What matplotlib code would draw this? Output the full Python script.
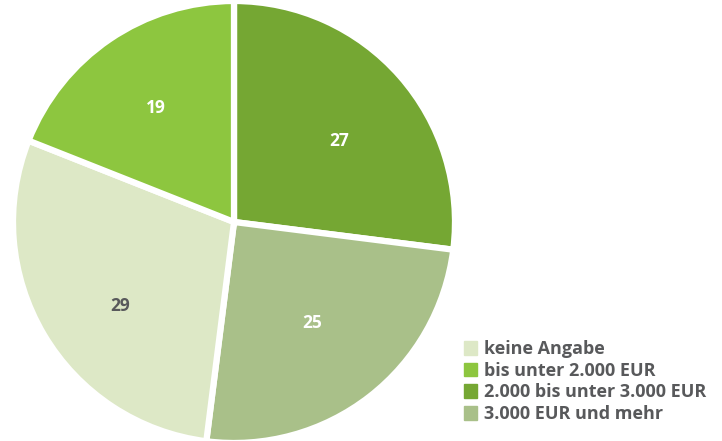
import numpy as np
import matplotlib.pyplot as plt

categories = ["keine Angabe", "bis unter 2.000 EUR", "2.000 bis unter 3.000 EUR", "3.000 EUR und mehr"]
values = [29, 19, 27, 25]
colors = ["#dde8c6", "#8dc63f", "#75a733", "#a9c089"]
label_colors = ["#58595b", "white", "white", "white"]

# clockwise from 12 o'clock: 27, 25, 29, 19
order = [2, 3, 0, 1]
label_dist = [0.60, 0.58, 0.64, 0.625]
label_shift = [-4, 0, 6, 0]  # degrees, nudge labels off the wedge bisector

plt.rcParams["font.family"] = ["Open Sans", "DejaVu Sans"]

fig = plt.figure(figsize=(7.22, 4.41), dpi=100)
r = 221
ax = fig.add_axes([(234 - r) / 722, (441 - 222 - r) / 441, 2 * r / 722, 2 * r / 441])

wedges, texts = ax.pie(
    [values[i] for i in order],
    colors=[colors[i] for i in order],
    startangle=90,
    counterclock=False,
    labels=[str(values[i]) for i in order],
    wedgeprops=dict(edgecolor="white", linewidth=4.5),
)
for w, t, i, d, s in zip(wedges, texts, order, label_dist, label_shift):
    ang = np.deg2rad((w.theta1 + w.theta2) / 2 + s)
    t.set_position((d * np.cos(ang), d * np.sin(ang)))
    t.set_color(label_colors[i])
    t.set_fontsize(12.5)
    t.set_fontweight("bold")
    t.set_ha("center")
    t.set_va("center")
ax.set_xlim(-1, 1)
ax.set_ylim(-1, 1)
ax.set_aspect("equal")

handles = [plt.Rectangle((0, 0), 1, 1, color=c) for c in colors]
leg = fig.legend(
    handles, categories,
    loc="upper left", bbox_to_anchor=(457 / 722, 1 - 333 / 441),
    frameon=False, handlelength=0.72, handleheight=0.8, handletextpad=0.4,
    labelspacing=0.2, borderaxespad=0,
    prop=dict(size=13, weight="bold"),
)
for t in leg.get_texts():
    t.set_color("#58595b")

fig.savefig("out.png", dpi=100)
